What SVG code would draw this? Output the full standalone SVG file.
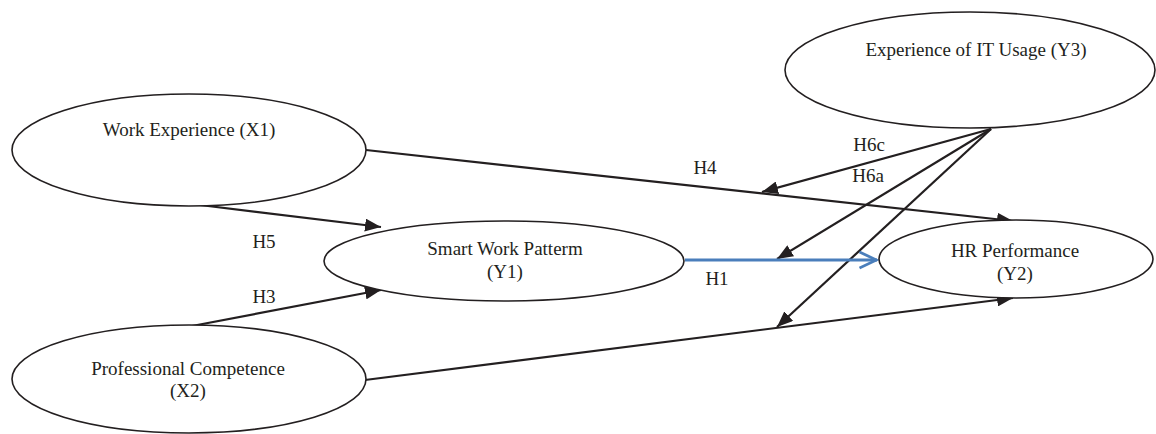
<svg xmlns="http://www.w3.org/2000/svg" width="1156" height="434" viewBox="0 0 1156 434">
<style>
.node ellipse{fill:#fff;stroke:#231f20;stroke-width:1.6}
text{font-family:"Liberation Serif","Times New Roman",serif;font-size:19px;fill:#231f20;text-anchor:middle}
.c{stroke:#231f20;stroke-width:2.2;fill:none}
.b{stroke:#4a7ebb;stroke-width:2.8;fill:none}
</style>
<defs>
<marker id="ah" viewBox="0 0 16 13" refX="16" refY="6.5" markerWidth="16" markerHeight="13" markerUnits="userSpaceOnUse" orient="auto">
<path d="M0,0 L16,6.5 L0,13 z" fill="#231f20"/>
</marker>
<marker id="oh" viewBox="0 0 20 20" refX="18.5" refY="10" markerWidth="20" markerHeight="20" markerUnits="userSpaceOnUse" orient="auto">
<path d="M1,2 L18,10 L1,18" fill="none" stroke="#4a7ebb" stroke-width="2.8"/>
</marker>
</defs>
<rect width="1156" height="434" fill="#fff"/>
<g id="connectors">
<path class="c" d="M366,150 L1013,221" marker-end="url(#ah)"/>
<path class="c" d="M192,204 L381,227" marker-end="url(#ah)"/>
<path class="c" d="M192,326 L381,290" marker-end="url(#ah)"/>
<path class="c" d="M365,380 L1013,298" marker-end="url(#ah)"/>
<path class="c" d="M991,129 L762,192" marker-end="url(#ah)"/>
<path class="c" d="M991,129 L777,259" marker-end="url(#ah)"/>
<path class="c" d="M991,129 L777,327" marker-end="url(#ah)"/>
<path class="b" d="M685,260 L877,260" marker-end="url(#oh)"/>
</g>
<g id="labels">
<text x="869" y="151">H6c</text>
<text x="868" y="182">H6a</text>
<text x="705" y="174">H4</text>
<text x="717" y="285">H1</text>
<text x="264" y="248">H5</text>
<text x="264" y="303">H3</text>
</g>
<g id="node-y3" class="node">
<ellipse cx="970" cy="70" rx="185" ry="58"/>
<text x="976" y="56">Experience of IT Usage (Y3)</text>
</g>
<g id="node-x1" class="node">
<ellipse cx="189" cy="150" rx="177" ry="56"/>
<text x="189" y="136">Work Experience (X1)</text>
</g>
<g id="node-y1" class="node">
<ellipse cx="504" cy="261" rx="180" ry="40"/>
<text x="505" y="255">Smart Work Patterm</text>
<text x="505" y="278">(Y1)</text>
</g>
<g id="node-y2" class="node">
<ellipse cx="1016" cy="259" rx="137" ry="39"/>
<text x="1015" y="257">HR Performance</text>
<text x="1015" y="280">(Y2)</text>
</g>
<g id="node-x2" class="node">
<ellipse cx="189" cy="379" rx="177" ry="54"/>
<text x="188" y="375">Professional Competence</text>
<text x="188" y="397">(X2)</text>
</g>
</svg>
